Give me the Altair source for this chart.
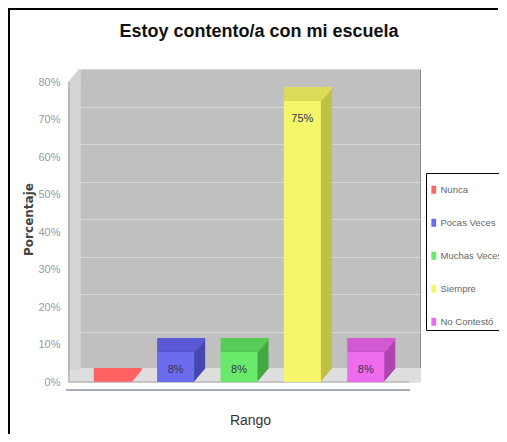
import altair as alt
import pandas as pd

categories = ["Nunca", "Pocas Veces", "Muchas Veces", "Siempre", "No Contestó"]
values = [0.0, 0.08, 0.08, 0.75, 0.08]
labels = ["", "8%", "8%", "75%", "8%"]
front_colors = ["#ff6666", "#6b6bee", "#6aea6a", "#f6f66a", "#ee6bee"]
top_colors = ["#ff6262", "#5a5ad6", "#58cc58", "#dcdc5a", "#d25ad2"]
side_colors = ["#cc4c4c", "#4848b0", "#44a844", "#c0c046", "#ae46ae"]
y_ticks = [0.0, 0.1, 0.2, 0.3, 0.4, 0.5, 0.6, 0.7, 0.8]

df = pd.DataFrame({"Rango": categories, "val": values, "label": labels,
                   "top": top_colors, "side": side_colors})
one = pd.DataFrame({"a": [0]})

W, H = 340, 300
DX, DY = 11, 13
N = 13
PAD = {"left": 72, "top": 61, "right": 79, "bottom": 65}
NARROW = "Liberation Sans Narrow, Liberation Sans, sans-serif"

x_enc = alt.X("Rango:N", sort=categories,
              scale=alt.Scale(paddingInner=0.415, paddingOuter=0.39),
              axis=alt.Axis(labels=False, ticks=False, domain=False, grid=False,
                            title="Rango", titleFont=NARROW, titleFontWeight="normal",
                            titleFontSize=14, titleColor="#333333", titlePadding=44))
y_enc = alt.Y("val:Q", scale=alt.Scale(domain=[0, 0.8]),
              axis=alt.Axis(format=".0%", values=y_ticks, labelOffset=DY, offset=12,
                            domain=False, ticks=False, labelPadding=8, grid=True,
                            gridColor="#d6d6d6", gridWidth=1,
                            labelColor="#9a9a9a", labelFont=NARROW, labelFontSize=11,
                            title="Porcentaje", titleFont="DejaVu Sans",
                            titleFontWeight="bold", titleFontSize=12,
                            titleColor="#444444", titlePadding=2))

layers = []

# floor and left wall (3D decoration)
for k in range(N + 1):
    ox, oy = -DX * k / N, DY * k / N
    layers.append(alt.Chart(one).mark_rect(stroke="#dedede", strokeWidth=1.5, fill="#dedede",
                                           xOffset=ox, yOffset=oy).encode(
        x=alt.value(0), x2=alt.value(W), y=alt.value(H), y2=alt.value(H)))
    layers.append(alt.Chart(one).mark_rect(stroke="#d4d4d4", strokeWidth=1.5, fill="#d4d4d4",
                                           xOffset=ox, yOffset=oy).encode(
        x=alt.value(0), x2=alt.value(0), y=alt.value(0), y2=alt.value(H)))

# front edge lines
layers.append(alt.Chart(one).mark_rule(color="#9a9a9a", strokeWidth=1).encode(
    x=alt.value(-DX), y=alt.value(DY), y2=alt.value(H + DY)))
layers.append(alt.Chart(one).mark_rule(color="#a8a8a8", strokeWidth=1).encode(
    x=alt.value(-DX), x2=alt.value(W - DX), y=alt.value(H + DY)))
layers.append(alt.Chart(one).mark_rule(color="#8890a0", strokeWidth=1.5).encode(
    x=alt.value(-14), x2=alt.value(W - 10), y=alt.value(H + DY + 8)))

# bar extrusion
for k in range(N):
    ox, oy = -DX * k / N, DY * k / N
    layers.append(alt.Chart(df).mark_bar(xOffset=ox, yOffset=oy).encode(
        x=x_enc, y=y_enc, fill=alt.Fill("side:N", scale=None)))
    layers.append(alt.Chart(df).mark_bar(xOffset=ox, yOffset=oy, strokeWidth=1.6).encode(
        x=x_enc, y=y_enc, y2=alt.Y2("val:Q"),
        fill=alt.Fill("top:N", scale=None), stroke=alt.Stroke("top:N", scale=None)))

# front faces
layers.append(alt.Chart(df).mark_bar(xOffset=-DX, yOffset=DY).encode(
    x=x_enc, y=y_enc,
    color=alt.Color("Rango:N", sort=categories,
                    scale=alt.Scale(domain=categories, range=front_colors),
                    legend=alt.Legend(orient="none", legendX=346, legendY=104, title=" ",
                                      titleFontSize=7, titlePadding=2,
                                      strokeColor="black", fillColor="white", padding=3,
                                      symbolType="M-0.6,-1H0.6V1H-0.6Z",
                                      symbolSize=64, symbolStrokeWidth=0,
                                      labelFont=NARROW, labelFontSize=9.5,
                                      labelColor="#666666", labelOffset=2,
                                      rowPadding=22))))

# value labels
layers.append(alt.Chart(df).mark_text(dx=-DX, dy=DY + 12, baseline="top",
                                      font=NARROW, fontSize=11, color="#333355").encode(
    x=x_enc, y=y_enc, text="label:N"))

# outer frame (top and left edges; right and bottom run past the picture)
layers.append(alt.Chart(one).mark_rule(color="black", strokeWidth=2).encode(
    x=alt.value(-71), x2=alt.value(W + PAD["right"] - 1), y=alt.value(-60)))
layers.append(alt.Chart(one).mark_rule(color="black", strokeWidth=2).encode(
    x=alt.value(-71), y=alt.value(-61), y2=alt.value(H + PAD["bottom"])))

chart = alt.layer(*layers).properties(
    width=W, height=H,
    autosize=alt.AutoSizeParams(type="none"),
    padding=PAD,
    title=alt.Title("Estoy contento/a con mi escuela", font=NARROW, fontSize=18,
                    fontWeight="bold", color="#111111", anchor="middle", dx=9, offset=-34),
).configure_view(fill="#c0c0c0", stroke="#8a8a8a", strokeWidth=1)

chart.save("out.html", embed_options={"renderer": "svg", "actions": False})
